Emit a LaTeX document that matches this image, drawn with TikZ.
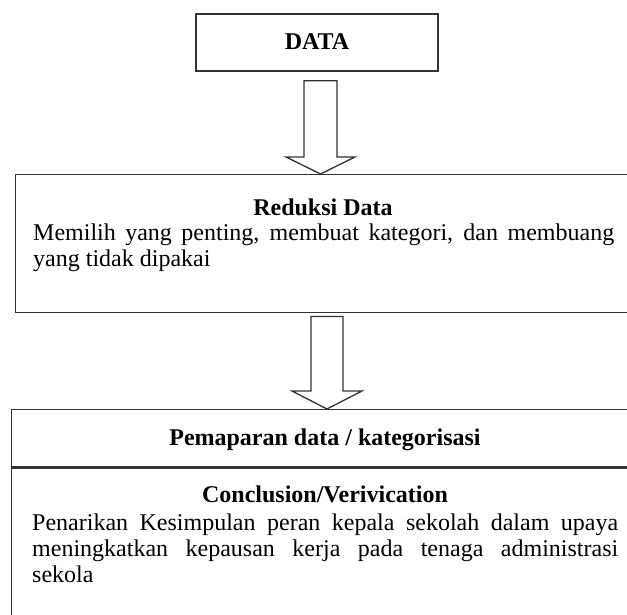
\documentclass[tikz,border=0pt]{standalone}
\usepackage{fontspec}
\setmainfont{Liberation Serif}
\usetikzlibrary{calc}
\begin{document}
\begin{tikzpicture}[x=1pt,y=-1pt,
  frame/.style={draw=black!80, line width=1.4pt, rectangle, inner sep=0pt},
  txt/.style={inner sep=0pt, font=\fontsize{24}{26}\selectfont},
  body/.style={txt, align=justify, anchor=north west},
  hollow/.style={draw=black!80, line width=1.3pt, fill=white, line join=miter}]
\useasboundingbox (0,0) rectangle (627,615);
\clip (0,0) rectangle (627,615);

% boxes
\node[frame, minimum width=242pt, minimum height=57pt] (data) at (317,42.5) {};
\node[frame, minimum width=620pt, minimum height=138pt, anchor=north west] (reduksi) at (15,174) {};
\node[frame, minimum width=640pt, minimum height=57pt, anchor=north west] (pemaparan) at (11,409) {};
\node[frame, minimum width=640pt, minimum height=220pt, anchor=north west] (conclusion) at (pemaparan.south west) {};

% texts
\node[txt, anchor=base] (tdata) at (317,50) {\textbf{DATA}};
\node[txt, anchor=base] (treduksi) at (323,215) {\textbf{Reduksi Data}};
\node[body, text width=581pt] (breduksi) at (33,223.6)
  {Memilih yang penting, membuat kategori, dan membuang\linebreak yang tidak dipakai};
\node[txt, anchor=base] (tpemaparan) at (325,445) {\textbf{Pemaparan data / kategorisasi}};
\node[txt, anchor=base] (tconclusion) at (325,502) {\textbf{Conclusion/Verivication}};
\node[body, text width=586pt] (bconclusion) at (32,513.6)
  {Penarikan Kesimpulan peran kepala sekolah dalam upaya\linebreak
   meningkatkan kepausan kerja pada tenaga administrasi\linebreak sekola};

% hollow block arrows between boxes
\coordinate (a1top) at ($(data.south)+(3.5,9)$);
\coordinate (a1tip) at (a1top |- reduksi.north);
\coordinate (a2top) at ($(reduksi.south)+(0,3)$);
\coordinate (a2tip) at (327,0 |- pemaparan.north);
\draw[hollow] let \p1=(a1top), \p2=(a1tip) in
  (\x1-16.5pt,\y1) -- (\x1+16.5pt,\y1) -- (\x1+16.5pt,\y2+17pt) -- (\x1+34.5pt,\y2+17pt)
  -- (\x1,\y2) -- (\x1-34.5pt,\y2+17pt) -- (\x1-16.5pt,\y2+17pt) -- cycle;
\draw[hollow] let \p1=(a2tip), \p2=(a2top) in
  (\x1-16pt,\y2) -- (\x1+16pt,\y2) -- (\x1+16pt,\y1+18pt) -- (\x1+35pt,\y1+18pt)
  -- (\x1,\y1) -- (\x1-35pt,\y1+18pt) -- (\x1-16pt,\y1+18pt) -- cycle;
\end{tikzpicture}
\end{document}
